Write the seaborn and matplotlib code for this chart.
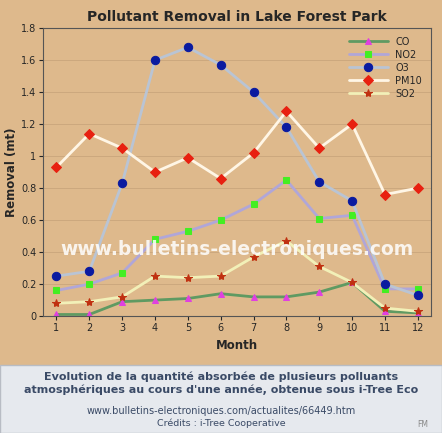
import matplotlib
matplotlib.use("Agg")
import matplotlib.pyplot as plt
import seaborn as sns
import pandas as pd

months = list(range(1, 13))
co = [0.01,0.01,0.09,0.10,0.11,0.14,0.12,0.12,0.15,0.21,0.03,0.02]
no2 = [0.16,0.20,0.27,0.48,0.53,0.60,0.70,0.85,0.61,0.63,0.17,0.17]
o3 = [0.25,0.28,0.83,1.60,1.68,1.57,1.40,1.18,0.84,0.72,0.20,0.13]
pm10 = [0.93,1.14,1.05,0.90,0.99,0.86,1.02,1.28,1.05,1.20,0.76,0.80]
so2 = [0.08,0.09,0.12,0.25,0.24,0.25,0.37,0.47,0.31,0.21,0.05,0.03]

series = [("CO", co, "#5f9a62", "#e040e0", "^", 5),
          ("NO2", no2, "#b0a6d8", "#44ee22", "s", 5),
          ("O3", o3, "#b9c4d4", "#0a1aa0", "o", 6),
          ("PM10", pm10, "#fff6e6", "#e82010", "D", 5),
          ("SO2", so2, "#f2f0b8", "#c03010", "*", 6)]

sns.set_style("white")
bg = "#deb98c"
fig = plt.figure(figsize=(4.42, 4.33), dpi=100, facecolor=bg)
ax = fig.add_axes([0.098, 0.27, 0.877, 0.665])
ax.set_facecolor(bg)
for name, vals, lc, mc, m, ms in series:
    df = pd.DataFrame({"Month": months, "v": vals})
    sns.lineplot(data=df, x="Month", y="v", ax=ax, color=lc, lw=2.0,
                 marker=m, markersize=ms, markerfacecolor=mc, markeredgecolor=mc,
                 label=name)
ax.set_xlim(0.6, 12.4)
ax.set_ylim(0, 1.8)
ax.set_xticks(months)
ax.set_yticks([0, 0.2, 0.4, 0.6, 0.8, 1.0, 1.2, 1.4, 1.6, 1.8])
ax.set_yticklabels(["0", "0.2", "0.4", "0.6", "0.8", "1", "1.2", "1.4", "1.6", "1.8"])
ax.tick_params(labelsize=7, length=3, left=True, bottom=True, pad=2)
ax.grid(axis="y", color="#c9a57c", lw=0.6)
for s in ax.spines.values():
    s.set_color("#555555"); s.set_linewidth(0.8)
ax.set_xlabel("Month", fontsize=8.5, fontweight="bold")
ax.set_ylabel("Removal (mt)", fontsize=8.5, fontweight="bold", labelpad=2)
ax.set_title("Pollutant Removal in Lake Forest Park", fontsize=10, fontweight="bold", pad=5)
ax.legend(loc="upper right", frameon=False, fontsize=7, handlelength=4, labelspacing=0.3)
ax.text(0.5, 0.23, "www.bulletins-electroniques.com", transform=ax.transAxes,
        ha="center", va="center", fontsize=13.5, color="white", alpha=0.85, fontweight="bold")

fig.patches.append(plt.Rectangle((0, 0), 1, 0.157, transform=fig.transFigure,
                                 facecolor="#e6e9ee", edgecolor="#b8bcc4", lw=1))
fig.text(0.5, 0.115, "Evolution de la quantité absorbée de plusieurs polluants\natmosphériques au cours d'une année, obtenue sous i-Tree Eco",
         ha="center", va="center", fontsize=8, fontweight="bold", color="#3a4a66", linespacing=1.3)
fig.text(0.5, 0.05, "www.bulletins-electroniques.com/actualites/66449.htm",
         ha="center", va="center", fontsize=7, color="#3a4a66")
fig.text(0.5, 0.022, "Crédits : i-Tree Cooperative", ha="center", va="center", fontsize=6.8, color="#3a4a66")
fig.text(0.97, 0.02, "FM", ha="right", va="center", fontsize=5.5, color="#888888")
fig.savefig("out.png", dpi=100, facecolor=bg)
